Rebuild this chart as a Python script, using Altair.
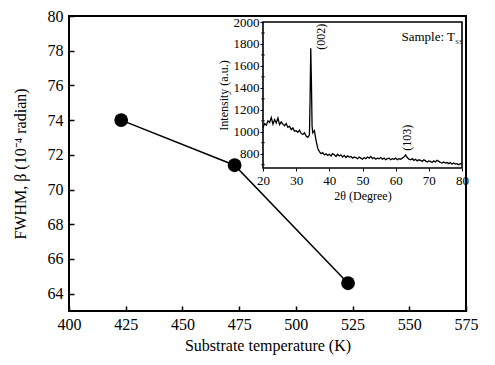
import altair as alt
import pandas as pd

# ---------------- data ----------------
temperature = [423, 473, 523]
fwhm = [74.0, 71.4, 64.6]

two_theta = [
    20.0, 20.5, 21.0, 21.5, 22.0, 22.5, 23.0, 23.5, 24.0, 24.5,
    25.0, 25.5, 26.0, 26.5, 27.0, 27.5, 28.0, 28.5, 29.0, 29.5,
    30.0, 30.5, 31.0, 31.5, 32.0, 32.5, 33.0, 33.5, 34.0, 34.2,
    34.4, 34.6, 34.8, 35.0, 35.5, 36.0, 36.5, 37.0, 37.5, 38.0,
    38.5, 39.0, 39.5, 40.0, 40.5, 41.0, 41.5, 42.0, 42.5, 43.0,
    43.5, 44.0, 44.5, 45.0, 45.5, 46.0, 46.5, 47.0, 47.5, 48.0,
    48.5, 49.0, 49.5, 50.0, 50.5, 51.0, 51.5, 52.0, 52.5, 53.0,
    53.5, 54.0, 54.5, 55.0, 55.5, 56.0, 56.5, 57.0, 57.5, 58.0,
    58.5, 59.0, 59.5, 60.0, 60.5, 61.0, 61.5, 62.0, 62.5, 63.0,
    63.5, 64.0, 64.5, 65.0, 65.5, 66.0, 66.5, 67.0, 67.5, 68.0,
    68.5, 69.0, 69.5, 70.0, 70.5, 71.0, 71.5, 72.0, 72.5, 73.0,
    73.5, 74.0, 74.5, 75.0, 75.5, 76.0, 76.5, 77.0, 77.5, 78.0,
    78.5, 79.0, 79.5, 80.0,
]
intensity = [
    1040, 1075, 1060, 1100, 1085, 1130, 1070, 1110, 1080, 1125,
    1065, 1090, 1070, 1055, 1075, 1040, 1050, 1020, 1035, 1005,
    1010, 995, 1015, 985, 975, 990, 960, 950, 970, 1300,
    1760, 1450, 1050, 990, 1010, 920, 850, 820, 800, 810,
    790, 800, 785, 795, 780, 800, 790, 775, 795, 780,
    790, 770, 785, 765, 780, 770, 775, 760, 770, 765,
    755, 770, 760, 750, 765, 755, 770, 760, 775, 755,
    765, 750, 760, 755, 765, 750, 760, 745, 755, 760,
    745, 755, 750, 760, 745, 755, 750, 760, 770, 790,
    765, 750, 745, 755, 740, 750, 735, 745, 740, 730,
    745, 735, 725, 735, 730, 720, 735, 725, 740, 730,
    720, 715, 725, 715, 720, 710, 720, 705, 715, 705,
    710, 700, 710, 705,
]

peak_labels = ["(002)", "(103)"]
peak_x = [37.4, 63.3]
peak_y = [1865, 945]

sample_text = ["Sample: T"]
sample_sub = ["S3"]

inset_minor_y = [700, 900, 1100, 1300, 1500, 1700, 1900]

# ---------------- layout / style ----------------
FONT = "Liberation Serif"
W, H = 397, 295
X_DOMAIN = [400, 575]
Y_DOMAIN = [63, 80]
INSET_X = [20, 80]
INSET_Y = [670, 2000]
INSET_X_RANGE = [194, 393]
INSET_Y_RANGE = [152, 6]

main_df = pd.DataFrame({"T": temperature, "FWHM": fwhm})
xrd_df = pd.DataFrame({"tt": two_theta, "I": intensity})
peak_df = pd.DataFrame({"tt": peak_x, "I": peak_y, "label": peak_labels})
sample_df = pd.DataFrame({"tt": [77.9], "I": [1860], "label": sample_text})
sub_df = pd.DataFrame({"tt": [78.0], "I": [1815], "label": sample_sub})
frame_df = pd.DataFrame({"x0": [INSET_X[0]], "x1": [INSET_X[1]],
                         "y0": [INSET_Y[0]], "y1": [INSET_Y[1]]})
minor_df = pd.DataFrame({"I": inset_minor_y})

# ---------------- main chart ----------------
mx = alt.Scale(domain=X_DOMAIN, nice=False, zero=False)
my = alt.Scale(domain=Y_DOMAIN, nice=False, zero=False)

x_main = alt.X(
    "T:Q", scale=mx,
    axis=alt.Axis(values=list(range(400, 576, 25)), title="Substrate temperature (K)",
                  format="d", offset=-5, tickSize=5, tickWidth=1.5, tickColor="black",
                  labelPadding=5, domain=False, grid=False,
                  labelFont=FONT, labelFontSize=16, labelColor="black",
                  titleFont=FONT, titleFontSize=16, titleFontWeight="normal",
                  titleColor="black", titlePadding=5, labelFlush=False),
)
y_main = alt.Y(
    "FWHM:Q", scale=my,
    axis=alt.Axis(values=list(range(64, 81, 2)), title="FWHM, β (10⁻⁴ radian)",
                  format="d", offset=-5, tickSize=5, tickWidth=1.5, tickColor="black",
                  labelPadding=6, domain=False, grid=False,
                  labelFont=FONT, labelFontSize=16, labelColor="black",
                  titleFont=FONT, titleFontSize=16, titleFontWeight="normal",
                  titleColor="black", titlePadding=19, labelFlush=False),
)

main_line = alt.Chart(main_df).mark_line(color="black", strokeWidth=1.5).encode(x=x_main, y=y_main)
main_pts = alt.Chart(main_df).mark_circle(color="black", opacity=1, size=190).encode(x=x_main, y=y_main)
main = alt.layer(main_line, main_pts)

# ---------------- inset ----------------
ix = alt.Scale(domain=INSET_X, range=INSET_X_RANGE, nice=False, zero=False)
iy = alt.Scale(domain=INSET_Y, range=INSET_Y_RANGE, nice=False, zero=False)

x_inset = alt.X(
    "tt:Q", scale=ix,
    axis=alt.Axis(orient="bottom", offset=-143, values=list(range(20, 81, 10)),
                  format="d", title="2θ (Degree)", tickSize=3, tickColor="black",
                  domain=False, grid=False, labelPadding=3,
                  labelFont=FONT, labelFontSize=13, labelColor="black",
                  titleFont=FONT, titleFontSize=12, titleFontWeight="normal",
                  titleColor="black", titlePadding=3, labelFlush=False),
)
y_inset = alt.Y(
    "I:Q", scale=iy,
    axis=alt.Axis(orient="left", offset=-194, values=list(range(800, 2001, 200)),
                  format="d", title="Intensity (a.u.)", tickSize=3, tickColor="black",
                  domain=False, grid=False, labelPadding=1,
                  labelFont=FONT, labelFontSize=13, labelColor="black",
                  titleFont=FONT, titleFontSize=12, titleFontWeight="normal",
                  titleColor="black", titlePadding=3, labelFlush=False),
)

inset_line = alt.Chart(xrd_df).mark_line(color="black", strokeWidth=1.3).encode(x=x_inset, y=y_inset)
inset_frame = alt.Chart(frame_df).mark_rect(fill=None, stroke="black", strokeWidth=1.6).encode(
    x=alt.X("x0:Q", scale=ix), x2="x1:Q", y=alt.Y("y0:Q", scale=iy), y2="y1:Q"
)
minor_ticks = alt.Chart(minor_df).mark_tick(color="black", thickness=1, size=4, orient="horizontal").encode(
    x=alt.X(datum=INSET_X[0], scale=ix), y=alt.Y("I:Q", scale=iy)
)
peaks = alt.Chart(peak_df).mark_text(font=FONT, fontSize=12, angle=270, color="black").encode(
    x=alt.X("tt:Q", scale=ix), y=alt.Y("I:Q", scale=iy), text="label:N"
)
sample = alt.Chart(sample_df).mark_text(font=FONT, fontSize=13, align="right", color="black").encode(
    x=alt.X("tt:Q", scale=ix), y=alt.Y("I:Q", scale=iy), text="label:N"
)
sub = alt.Chart(sub_df).mark_text(font=FONT, fontSize=6, align="left", color="black").encode(
    x=alt.X("tt:Q", scale=ix), y=alt.Y("I:Q", scale=iy), text="label:N"
)
inset = alt.layer(inset_line, inset_frame, minor_ticks, peaks, sample, sub)

chart = (
    alt.layer(main, inset)
    .resolve_scale(x="independent", y="independent")
    .resolve_axis(x="independent", y="independent")
    .properties(width=W, height=H, autosize=alt.AutoSizeParams(type="none"),
                padding={"left": 61, "top": 8, "right": 21, "bottom": 46},
                background="white")
    .configure_view(stroke="black", strokeWidth=2)
    .configure_axis(labelFont=FONT, titleFont=FONT)
)

chart.save("out.html", embed_options={"renderer": "svg", "actions": False})
